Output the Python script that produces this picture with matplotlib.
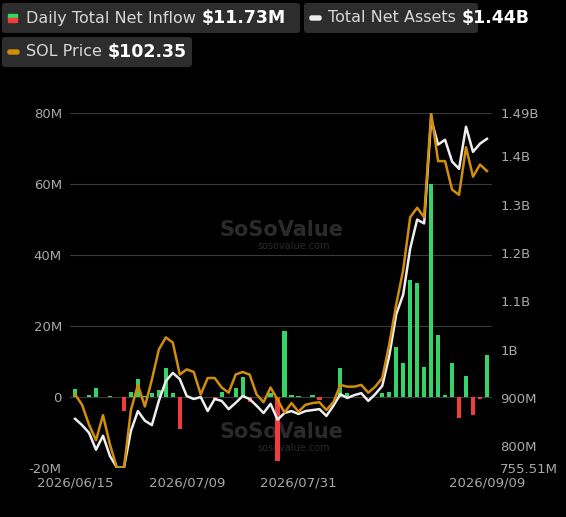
import matplotlib
matplotlib.use("Agg")
import matplotlib.pyplot as plt
from matplotlib.patches import FancyBboxPatch
import numpy as np

# data (trading days)
inflow = [2.3, 0, 0.5, 2.5, 0, 0.2, 0, -4, 1.5, 5,
          0.3, 1, 2, 8, 1, -9, 0, 0, 0, 0,
          -0.8, 1.5, 0, 2.5, 5.5, -1.5, 0, 0, 1, -18,
          18.5, 0.5, 0.3, 0, 0.5, -0.8, 0, 0, 8, 1,
          0, 0, 0, 0, 1, 1.5, 14, 9.6, 33, 32,
          8.5, 60, 17.5, 0.5, 9.5, -6, 6, -5, -0.5, 11.73]
net_assets = [857, 844, 828, 793, 822, 780, 756, 756, 832, 873,
              853, 844, 894, 935, 952, 939, 904, 898, 902, 873,
              898, 894, 877, 890, 904, 898, 884, 869, 888, 855,
              869, 873, 867, 873, 875, 877, 863, 884, 908, 900,
              906, 910, 894, 908, 925, 987, 1073, 1114, 1209, 1269,
              1261, 1477, 1424, 1434, 1389, 1374, 1461, 1409, 1426, 1436]
sol_price = [76.5, 75.3, 73.0, 71.2, 74.1, 70.7, 68.0, 68.0, 74.7, 77.6,
             75.1, 78.2, 81.7, 83.1, 82.5, 78.8, 79.4, 79.1, 76.5, 78.4,
             78.4, 77.3, 76.7, 78.8, 79.1, 78.8, 76.5, 75.6, 77.3, 75.9,
             74.4, 75.5, 74.5, 75.3, 75.5, 75.6, 74.7, 75.6, 77.6, 77.4,
             77.4, 77.6, 76.7, 77.4, 78.4, 82.3, 86.9, 90.9, 97.0, 98.1,
             97.0, 109.1, 103.5, 103.5, 100.2, 99.6, 105.1, 101.7, 103.1, 102.35]
date_ticks = [0, 16, 32, 59]
date_labels = ["2026/06/15", "2026/07/09", "2026/07/31", "2026/09/09"]
left_ticks = [-20, 0, 20, 40, 60, 80]
right_ticks = [755.51, 800, 900, 1000, 1100, 1200, 1300, 1400, 1490]
right_labels = ["755.51M", "800M", "900M", "1B", "1.1B", "1.2B", "1.3B", "1.4B", "1.49B"]

BG = "#000000"
GREEN = "#35d466"
RED = "#f03c3c"
ORANGE = "#d18e0c"
WHITE = "#eeeeee"
TXT = "#a8a8a8"

fig = plt.figure(figsize=(5.66, 5.17), dpi=100, facecolor=BG)
ax = fig.add_axes([0.124, 0.095, 0.745, 0.687], facecolor=BG)
x = np.arange(len(inflow))

colors = [GREEN if v >= 0 else RED for v in inflow]
ax.bar(x, inflow, width=0.6, color=colors, zorder=2)
ax.set_ylim(-20, 80)
ax.set_xlim(-0.7, len(inflow) - 0.3)
ax.set_yticks(left_ticks)
ax.set_yticklabels([f"{t}M" if t else "0" for t in left_ticks])
ax.grid(axis="y", color="#3a3a3a", linewidth=0.8, zorder=0)
ax.set_xticks(date_ticks)
ax.set_xticklabels(date_labels)
ax.tick_params(colors=TXT, labelsize=9.5, length=0, pad=6)
for s in ax.spines.values():
    s.set_visible(False)

axr = ax.twinx()
axr.plot(x, net_assets, color=WHITE, linewidth=1.8)
axr.set_ylim(755.51, 1490)
axr.set_yticks(right_ticks)
axr.set_yticklabels(right_labels)
axr.tick_params(colors=TXT, labelsize=9.5, length=0, pad=6)
for s in axr.spines.values():
    s.set_visible(False)

# price on its own hidden scale, drawn above the white line
axp = ax.twinx()
axp.plot(x, sol_price, color=ORANGE, linewidth=1.8)
axp.set_ylim(68.0, 109.1)
axp.axis("off")

# watermarks
for yy in (0.67, 0.1):
    ax.text(0.5, yy, "SoSoValue", transform=ax.transAxes, ha="center", va="center",
            fontsize=15, fontweight="bold", color="#2a2a2a", zorder=1)
    ax.text(0.53, yy - 0.045, "sosovalue.com", transform=ax.transAxes, ha="center",
            va="center", fontsize=7, color="#2a2a2a", zorder=1)

# legend boxes
def legend_box(x0, y0, w, label, value, kind):
    W, H = 566, 517
    fig.patches.append(FancyBboxPatch((x0 / W, 1 - (y0 + 30) / H), w / W, 30 / H,
                                      boxstyle="round,pad=0,rounding_size=0.006",
                                      transform=fig.transFigure, facecolor="#2d2d2d",
                                      edgecolor="none"))
    cy = 1 - (y0 + 15) / H
    ix = (x0 + 6) / W
    if kind == "bar":
        fig.patches.append(plt.Rectangle((ix, cy), 9 / W, 4 / H, transform=fig.transFigure, color=GREEN))
        fig.patches.append(plt.Rectangle((ix, cy - 4 / H), 9 / W, 4 / H, transform=fig.transFigure, color=RED))
    else:
        col = WHITE if kind == "white" else ORANGE
        fig.patches.append(FancyBboxPatch((ix, cy - 2 / H), 11 / W, 4 / H,
                                          boxstyle="round,pad=0,rounding_size=0.003",
                                          transform=fig.transFigure, color=col))
    t = fig.text((x0 + 24) / W, cy, label, color="#d8d8d8", fontsize=11.5, va="center")
    fig.canvas.draw()
    bb = t.get_window_extent()
    fig.text((bb.x1 + 6) / W, cy, value, color="white", fontsize=12.5,
             fontweight="bold", va="center")

legend_box(2, 3, 298, "Daily Total Net Inflow", "$11.73M", "bar")
legend_box(304, 3, 174, "Total Net Assets", "$1.44B", "white")
legend_box(2, 37, 190, "SOL Price", "$102.35", "orange")

fig.savefig("out.png", dpi=100, facecolor=BG)
